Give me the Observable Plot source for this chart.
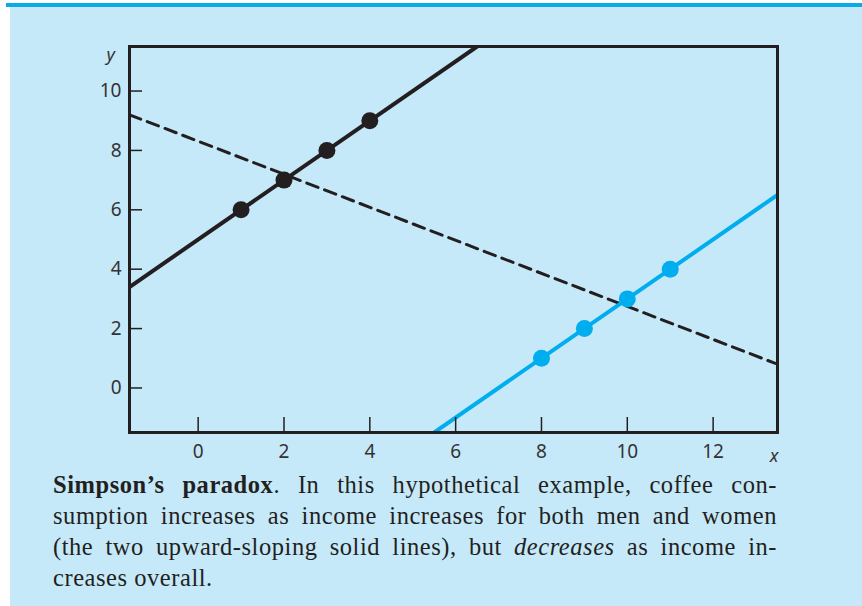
<!DOCTYPE html>
<html><head><meta charset="utf-8">
<script src="https://cdn.jsdelivr.net/npm/d3@7"></script>
<script src="https://cdn.jsdelivr.net/npm/@observablehq/plot@0.6"></script>
<style>
html,body{margin:0;padding:0;background:#fff;width:862px;height:606px;overflow:hidden;position:relative}
#panel{position:absolute;left:10px;top:7px;width:852px;height:599px;background:#c6e9f9}
#band{position:absolute;left:6px;top:3px;width:856px;height:4px;background:#0aa9e8}
#chart{position:absolute;left:0;top:0}
#caption{position:absolute;left:53px;top:469px;width:724px;font-family:"Liberation Serif","DejaVu Serif",serif;font-size:24.5px;letter-spacing:0.55px;color:#231f20}
.l{height:31px;line-height:31px;text-align:justify;text-align-last:justify;white-space:nowrap}
.l.last{text-align:left;text-align-last:left}
</style>
</head><body>
<div id="panel"></div>
<div id="band"></div>
<div id="chart"></div>
<div id="caption">
<div class="l"><b>Simpson’s paradox</b>. In this hypothetical example, coffee con-</div>
<div class="l">sumption increases as income increases for both men and women</div>
<div class="l">(the two upward-sloping solid lines), but <i>decreases</i> as income in-</div>
<div class="l last">creases overall.</div>
</div>
<script>
// group 1 (black) points
const blackX = [1, 2, 3, 4];
const blackY = [6, 7, 8, 9];
// group 2 (blue) points
const blueX = [8, 9, 10, 11];
const blueY = [1, 2, 3, 4];
// solid line extents (clipped to frame)
const blackLineX = [-1.6, 6.5];
const blackLineY = [3.4, 11.5];
const blueLineX = [5.5, 13.5];
const blueLineY = [-1.5, 6.5];
// overall (dashed) trend line
const dashLineX = [-1.6, 13.5];
const dashLineY = [9.2, 0.8];
// ticks
const xTicks = [0, 2, 4, 6, 8, 10, 12];
const yTicks = [0, 2, 4, 6, 8, 10];

const zip = (xs, ys) => xs.map((x, i) => ({x, y: ys[i]}));
const ink = "#231f20";
const cyan = "#00aeef";

const plot = Plot.plot({
  width: 862,
  height: 475,
  marginLeft: 129,
  marginRight: 85,
  marginTop: 46,
  marginBottom: 43,
  x: {domain: [-1.6, 13.5]},
  y: {domain: [-1.5, 11.5]},
  style: {background: "transparent", fontFamily: "'Noto Sans', sans-serif", fontSize: "19px", color: "#333"},
  marks: [
    Plot.line(zip(dashLineX, dashLineY), {x: "x", y: "y", stroke: ink, strokeWidth: 3, strokeDasharray: "12,7", clip: true}),
    Plot.line(zip(blackLineX, blackLineY), {x: "x", y: "y", stroke: ink, strokeWidth: 4, clip: true}),
    Plot.line(zip(blueLineX, blueLineY), {x: "x", y: "y", stroke: cyan, strokeWidth: 4, clip: true}),
    Plot.dot(zip(blackX, blackY), {x: "x", y: "y", r: 8.5, fill: ink, stroke: null}),
    Plot.dot(zip(blueX, blueY), {x: "x", y: "y", r: 8.5, fill: cyan, stroke: null}),
    Plot.frame({stroke: ink, strokeWidth: 3}),
    Plot.axisX({ticks: xTicks, tickSize: -15, tickPadding: 27, label: null, stroke: ink, strokeWidth: 1.5, fill: "#333", fontSize: 19}),
    Plot.axisY({ticks: yTicks, tickSize: -13, tickPadding: 21, label: null, stroke: ink, strokeWidth: 1.5, fill: "#333", fontSize: 19}),
    Plot.text(["y"], {frameAnchor: "top-left", dx: -23, dy: 2, text: d => d, fontStyle: "italic", fontSize: 18, fill: "#333"}),
    Plot.text(["x"], {frameAnchor: "bottom-right", dx: 1, dy: 29, textAnchor: "end", text: d => d, fontStyle: "italic", fontSize: 18, fill: "#333"})
  ]
});
document.getElementById("chart").appendChild(plot);
</script>
</body></html>
